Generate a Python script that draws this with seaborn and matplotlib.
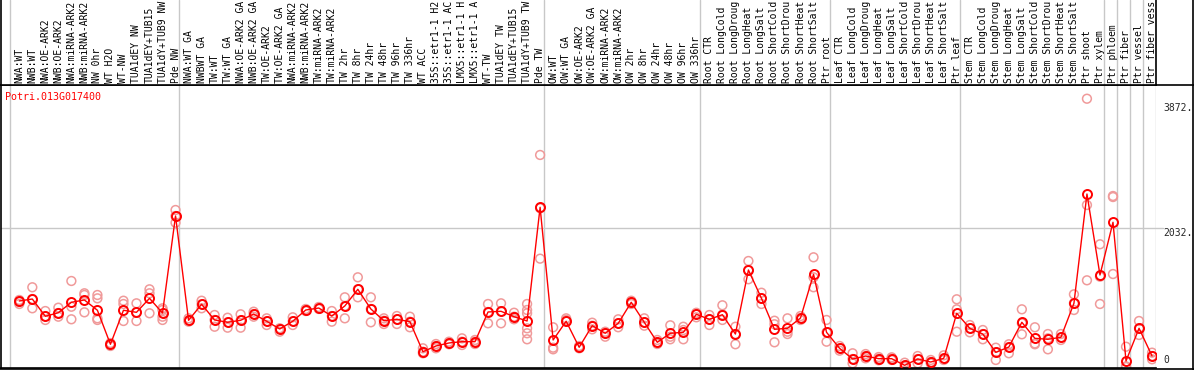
import pandas as pd
import seaborn as sns
import matplotlib.pyplot as plt
from matplotlib.lines import Line2D
import matplotlib.transforms as mtransforms

# sample labels (truncated as shown in the header strip)
labels = [
    "NWA:WT", "NWB:WT", "NWA:OE-ARK2", "NWB:OE-ARK2", "NWA:miRNA-ARK2",
    "NWB:miRNA-ARK2", "NW 0hr", "WT H2O", "WT-NW", "TUA1dEY NW",
    "TUA1dEY+TUB15", "TUA1dY+TUB9 NW", "Pde NW",
    "NWA:WT GA", "NWBWT GA", "TW:WT", "TW:WT GA", "NWA:OE-ARK2 GA",
    "NWB:OE-ARK2 GA", "TW:OE-ARK2", "TW:OE-ARK2 GA", "NWA:miRNA-ARK2",
    "NWB:miRNA-ARK2", "TW:miRNA-ARK2", "TW:miRNA-ARK2", "TW 2hr", "TW 8hr",
    "TW 24hr", "TW 48hr", "TW 96hr", "TW 336hr", "WT ACC", "35S::etr1-1 H2",
    "35S::etr1-1 AC", "LMX5::etr1-1 H", "LMX5::etr1-1 A", "WT-TW",
    "TUA1dEY TW", "TUA1dEY+TUB15", "TUA1dY+TUB9 TW", "Pde TW",
    "OW:WT", "OW:WT GA", "OW:OE-ARK2", "OW:OE-ARK2 GA", "OW:miRNA-ARK2",
    "OW:miRNA-ARK2", "OW 2hr", "OW 8hr", "OW 24hr", "OW 48hr", "OW 96hr",
    "OW 336hr",
    "Root CTR", "Root LongCold", "Root LongDroug", "Root LongHeat",
    "Root LongSalt", "Root ShortCold", "Root ShortDrou", "Root ShortHeat",
    "Root ShortSalt", "Ptr root",
    "Leaf CTR", "Leaf LongCold", "Leaf LongDroug", "Leaf LongHeat",
    "Leaf LongSalt", "Leaf ShortCold", "Leaf ShortDrou", "Leaf ShortHeat",
    "Leaf ShortSalt", "Ptr leaf",
    "Stem CTR", "Stem LongCold", "Stem LongDroug", "Stem LongHeat",
    "Stem LongSalt", "Stem ShortCold", "Stem ShortDrou", "Stem ShortHeat",
    "Stem ShortSalt", "Ptr shoot", "Ptr xylem",
    "Ptr phloem", "Ptr fiber", "Ptr vessel", "Ptr fiber vess",
]

# group boundaries (index of first sample in each group)
group_starts = [0, 13, 41, 53, 63, 73, 84, 85, 86, 87, 88]

means = [967, 996, 743, 795, 948, 982, 831, 333, 831, 801,
         1006, 791, 2212, 684, 919, 689, 655, 684, 776, 670,
         557, 670, 835, 864, 747, 894, 1138, 850, 678, 699,
         664, 224, 308, 352, 371, 371, 806, 816, 737, 674,
         2340, 396, 670, 289, 605, 494, 640, 948, 655, 362,
         494, 508, 772, 699, 766, 483, 1421, 1006, 552, 567,
         718, 1358, 508, 274, 117, 161, 122, 122, 25, 117,
         73, 127, 787, 567, 483, 215, 293, 655, 420, 406,
         435, 933, 2534, 1348, 2120, 88, 567, 161]

replicates = [
    [982, 952, 923], [1168, 860, 996], [820, 689, 743], [869, 737, 791],
    [1260, 883, 699], [1080, 1055, 801], [1055, 1006, 713, 689], [351, 308, 340],
    [971, 923, 674], [933, 674, 801], [1138, 1080, 787], [860, 835, 737, 689],
    [2300, 2114, 2212], [713, 664, 684], [971, 860, 919], [762, 590, 689],
    [722, 576, 655], [772, 576, 684], [810, 737, 776], [713, 615, 670],
    [517, 567, 557], [728, 615, 670], [850, 820, 835], [879, 850, 864],
    [820, 664, 747], [1021, 713, 894], [1314, 1021, 1138], [1021, 655, 850],
    [713, 630, 678], [747, 630, 699], [737, 582, 664], [274, 201, 224],
    [337, 274, 308], [371, 333, 352], [420, 322, 371], [396, 337, 371],
    [923, 640, 806], [933, 640, 816], [795, 699, 737],
    [923, 835, 787, 567, 494, 406],
    [3106, 2327, 1587], [582, 283, 259], [713, 689, 670], [308, 274, 289],
    [649, 552, 605], [517, 444, 494], [699, 582, 640], [971, 923, 948],
    [713, 605, 655], [396, 337, 362], [611, 444, 406], [590, 406, 542],
    [795, 728, 772], [762, 615, 699], [904, 689, 766], [590, 333, 483],
    [1553, 1285, 1421], [1088, 923, 1006], [678, 626, 362], [713, 517, 483],
    [747, 689, 718], [1607, 1168, 1314], [689, 371, 508], [308, 239, 274],
    [201, 54, 117], [190, 127, 161], [146, 98, 122], [142, 103, 122],
    [63, 0, 25], [161, 54, 117], [103, 54, 73], [171, 127, 103],
    [992, 845, 517], [615, 508, 567], [542, 406, 483], [283, 103, 215],
    [333, 201, 293], [845, 479, 640], [582, 333, 345], [483, 259, 420],
    [483, 396, 435], [1065, 835, 933], [3930, 2373, 1270], [1798, 1323, 923],
    [2505, 2490, 1362], [297, 0, 10], [674, 469, 567], [210, 113, 161],
]

tick_values = [3872, 2032]
title = "Potri.013G017400"

sns.set_style("white")
plt.rcParams['font.family'] = ['DejaVu Sans Mono', 'DejaVu Sans']

W, H = 1194, 370
def box(x0, y0, x1, y1):
    return [x0 / W, 1 - y1 / H, (x1 - x0) / W, (y1 - y0) / H]

fig = plt.figure(figsize=(W / 100, H / 100), dpi=100)
ax = fig.add_axes(box(1, 85, 1155.7, 368))
lab = fig.add_axes(box(1, 0, 1155.7, 85))

df_mean = pd.DataFrame({"x": range(len(means)), "value": means})
rows = []
for i, reps in enumerate(replicates):
    for v in reps:
        rows.append((i, v))
df_reps = pd.DataFrame(rows, columns=["x", "value"])

xlim = (-1.405, 87.28)
for a in (ax, lab):
    a.set_xlim(*xlim)
    a.set_xticks([])
    a.set_yticks([])
    for b in group_starts:
        a.axvline(b - 0.715, color="#c8c8c8", lw=1, zorder=0)

ax.set_ylim(-14.6, 4131)
ax.axhline(2032, color="#c8c8c8", lw=1, zorder=0, xmax=1.0063, clip_on=False)

sns.scatterplot(data=df_reps, x="x", y="value", ax=ax, marker="o",
                facecolor="none", edgecolor="#f09a9a", linewidth=1.1,
                s=40, zorder=2, legend=False)
sns.lineplot(data=df_mean, x="x", y="value", ax=ax, color="red", lw=1,
             marker="o", markersize=6.5, markerfacecolor="none",
             markeredgecolor="red", markeredgewidth=1.4, zorder=3)
ax.set_xlabel("")
ax.set_ylabel("")

for s in ["left", "bottom", "top"]:
    ax.spines[s].set_color("black")
    ax.spines[s].set_linewidth(1.2)
ax.spines["right"].set_visible(False)

for s in ["left", "right", "bottom"]:
    lab.spines[s].set_color("black")
    lab.spines[s].set_linewidth(1.2)
lab.spines["top"].set_visible(False)
lab.set_ylim(0, 1)

trans = mtransforms.blended_transform_factory(lab.transData, lab.transAxes)
for i, name in enumerate(labels):
    lab.text(i, 0.025, name, rotation=90, ha="center", va="bottom",
             fontsize=7, transform=trans, color="black")

ax.text(5 / W, 1 - 97 / H, title, transform=fig.transFigure, color="red",
        fontsize=7.2, ha="left", va="center")

ytrans = mtransforms.blended_transform_factory(fig.transFigure, ax.transData)
for v in tick_values:
    ax.text(1163 / W, v, f"{v}.", transform=ytrans, fontsize=7,
            ha="left", va="top", clip_on=False)
ax.text(1163 / W, 30, "0", transform=ytrans, fontsize=7,
        ha="left", va="bottom", clip_on=False)

# outer frame pieces
fig.add_artist(Line2D([1155.7 / W, 1], [1 - 85 / H, 1 - 85 / H],
                      transform=fig.transFigure, color="black", lw=1.2))
fig.add_artist(Line2D([0, 1], [1 - 368.5 / H, 1 - 368.5 / H],
                      transform=fig.transFigure, color="black", lw=1.2))
fig.add_artist(Line2D([1192.5 / W, 1192.5 / W], [0, 1],
                      transform=fig.transFigure, color="black", lw=1.2))

fig.savefig("out.png", dpi=100)
